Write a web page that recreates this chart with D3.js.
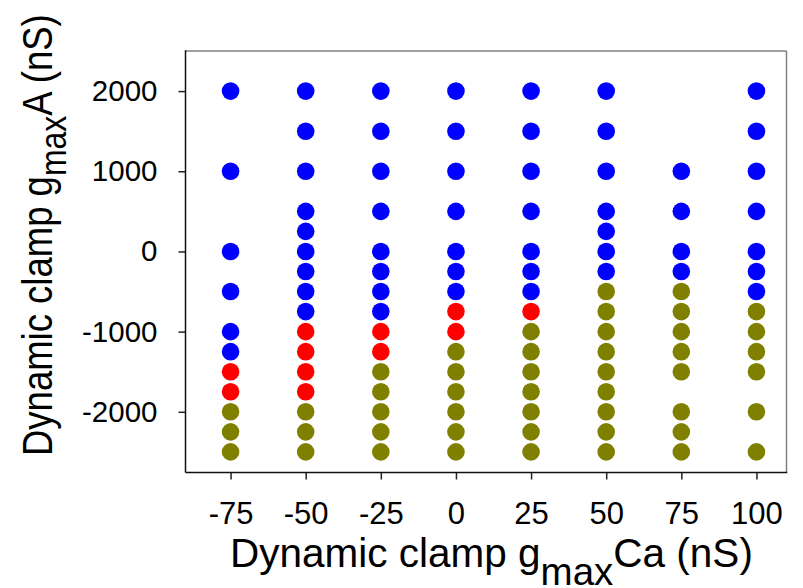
<!DOCTYPE html>
<html>
<head>
<meta charset="utf-8">
<script src="https://d3js.org/d3.v7.min.js"></script>
<style>
  body { margin: 0; background: #fff; }
  text { font-family: "Liberation Sans", Arial, sans-serif; fill: #000; }
</style>
</head>
<body>
<div id="chart"></div>
<script>
// gmaxCa columns and the gmaxA values tested in each, grouped by outcome colour
var caValues = [-75, -50, -25, 0, 25, 50, 75, 100];
var blueA = [
  [2000, 1000, 0, -500, -1000, -1250],
  [2000, 1500, 1000, 500, 250, 0, -250, -500, -750],
  [2000, 1500, 1000, 500, 0, -250, -500, -750],
  [2000, 1500, 1000, 500, 0, -250, -500],
  [2000, 1500, 1000, 500, 0, -250, -500],
  [2000, 1500, 1000, 500, 250, 0, -250],
  [1000, 500, 0, -250],
  [2000, 1500, 1000, 500, 0, -250, -500]
];
var redA = [
  [-1500, -1750],
  [-1000, -1250, -1500, -1750],
  [-1000, -1250],
  [-750, -1000],
  [-750],
  [],
  [],
  []
];
var oliveA = [
  [-2000, -2250, -2500],
  [-2000, -2250, -2500],
  [-1500, -1750, -2000, -2250, -2500],
  [-1250, -1500, -1750, -2000, -2250, -2500],
  [-1000, -1250, -1500, -1750, -2000, -2250, -2500],
  [-500, -750, -1000, -1250, -1500, -1750, -2000, -2250, -2500],
  [-500, -750, -1000, -1250, -1500, -2000, -2250, -2500],
  [-750, -1000, -1250, -1500, -2000, -2500]
];
var yTicks = [-2000, -1000, 0, 1000, 2000];

var width = 803, height = 588;
var plotL = 185.5, plotR = 786.5, plotT = 51, plotB = 472.5;

var svg = d3.select("#chart").append("svg")
  .attr("width", width)
  .attr("height", height);

var x = d3.scaleLinear().domain([-90, 110]).range([plotL, plotR]);
var y = d3.scaleLinear().domain([-2757, 2500]).range([plotB, plotT]);

// build point list
var points = [];
function addGroup(groups, color) {
  groups.forEach(function(vals, i) {
    vals.forEach(function(v) { points.push({ca: caValues[i], a: v, color: color}); });
  });
}
addGroup(blueA, "#0000ff");
addGroup(redA, "#ff0000");
addGroup(oliveA, "#808000");

// frame: top/right grey, left/bottom black
svg.append("line").attr("x1", plotL).attr("x2", plotR).attr("y1", plotT).attr("y2", plotT)
  .attr("stroke", "#808080").attr("stroke-width", 1.5);
svg.append("line").attr("x1", plotR).attr("x2", plotR).attr("y1", plotT).attr("y2", plotB)
  .attr("stroke", "#808080").attr("stroke-width", 1.5);

svg.selectAll("circle.pt")
  .data(points)
  .enter().append("circle")
    .attr("class", "pt")
    .attr("cx", function(d) { return x(d.ca); })
    .attr("cy", function(d) { return y(d.a); })
    .attr("r", 8.8)
    .attr("fill", function(d) { return d.color; });

// axes
var fmt = function(d) { return String(d); };
var xAxis = svg.append("g")
  .attr("transform", "translate(0," + plotB + ")")
  .call(d3.axisBottom(x).tickValues(caValues).tickFormat(fmt).tickSize(7).tickPadding(22));
var yAxis = svg.append("g")
  .attr("transform", "translate(" + plotL + ",0)")
  .call(d3.axisLeft(y).tickValues(yTicks).tickFormat(fmt).tickSize(7).tickPadding(21));

[xAxis, yAxis].forEach(function(g) {
  g.attr("font-family", "'Liberation Sans', Arial, sans-serif");
  g.select(".domain").remove();
  g.selectAll(".tick line").attr("stroke", "#222").attr("stroke-width", 1.5);
  g.selectAll(".tick text").attr("fill", "#000");
});
xAxis.attr("font-size", 31);
yAxis.attr("font-size", 29.5);
xAxis.selectAll(".tick text").attr("dy", "0.72em");

svg.append("line").attr("x1", plotL).attr("x2", plotL).attr("y1", plotT - 0.75).attr("y2", plotB)
  .attr("stroke", "#111").attr("stroke-width", 1.5);
svg.append("line").attr("x1", plotL).attr("x2", plotR + 0.75).attr("y1", plotB).attr("y2", plotB)
  .attr("stroke", "#111").attr("stroke-width", 1.5);

// axis titles with subscript
function title(sel, main1, sub, main2, subSize, shift) {
  sel.append("tspan").text(main1);
  sel.append("tspan").text(sub).attr("dy", shift).style("font-size", subSize + "px");
  sel.append("tspan").text(main2).attr("dy", -shift);
}
var xt = svg.append("text")
  .attr("x", 230).attr("y", 567)
  .style("font-size", "40.5px");
title(xt, "Dynamic clamp g", "max", "Ca (nS)", 38.5, 18);

var yt = svg.append("text")
  .attr("transform", "translate(52,456) rotate(-90) scale(1,1.15)")
  .style("font-size", "36.5px");
title(yt, "Dynamic clamp g", "max", "A (nS)", 32, 12);
</script>
</body>
</html>
